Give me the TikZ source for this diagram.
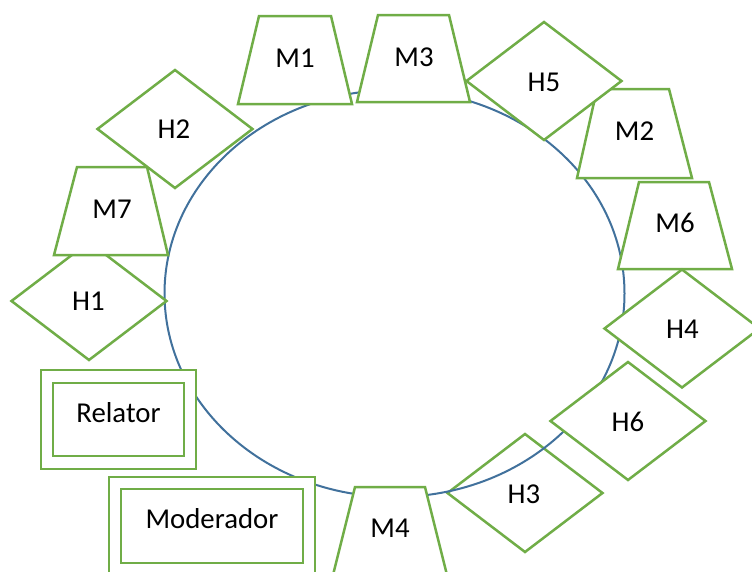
\documentclass[tikz,border=0pt]{standalone}
\usepackage{fontspec}
\setmainfont{Carlito}
\definecolor{shapegreen}{HTML}{70AD47}
\definecolor{ringblue}{HTML}{41719C}
\newcommand\trapz[6]{% xtl xtr xbl xbr ytop ybot
  \draw[shapeline] (#1,#5) -- (#2,#5) -- (#4,#6) -- (#3,#6) -- cycle;}
\newcommand\diamd[2]{% cx cy
  \draw[shapeline] ({#1-77.5},#2) -- (#1,{#2-59}) -- ({#1+77.5},#2) -- (#1,{#2+59}) -- cycle;}
\begin{document}
\begin{tikzpicture}[x=1pt,y=-1pt,
  shapeline/.style={draw=shapegreen, line width=2.5pt, fill=white, line join=miter},
  ring/.style={draw=ringblue, line width=2pt},
  lbl/.style={font=\fontsize{28.8}{33}\selectfont, inner sep=0pt, text=black}]
\useasboundingbox (0,0) rectangle (752,571);
\clip (0,0) rectangle (752,571);
% H3 lies under the ring
\diamd{525}{493}
\node[lbl] (h3) at (524,494) {H3};
% ring
\draw[ring] (394.5,293.5) ellipse [x radius=230pt, y radius=203.5pt];
% H1
\diamd{89}{301}
\node[lbl] (h1) at (88.5,301) {H1};
% M7
\trapz{77}{147}{54}{168}{167}{255}
\node[lbl] (m7) at (112,209) {M7};
% H2
\diamd{175}{129}
\node[lbl] (h2) at (174,129) {H2};
% M1
\trapz{259}{331}{238}{352}{16}{104}
\node[lbl] (m1) at (295,58.5) {M1};
% M2
\trapz{597}{669}{577}{692}{89}{178}
\node[lbl] (m2) at (634.5,131) {M2};
% H5
\diamd{544}{81}
\node[lbl] (h5) at (544,82) {H5};
% M3
\trapz{378}{449}{357}{470}{15}{102}
\node[lbl] (m3) at (414,57) {M3};
% M6
\trapz{639}{709}{618}{732}{182}{269}
\node[lbl] (m6) at (675,222.5) {M6};
% H4
\diamd{682}{328.5}
\node[lbl] (h4) at (682.5,329) {H4};
% H6
\diamd{628}{421}
\node[lbl] (h6) at (628,422) {H6};
% Relator
\draw[shapeline] (41,370) rectangle (196,469);
\draw[shapeline] (53,383) rectangle (184,456);
\node[lbl] (relator) at (118.5,413) {Relator};
% Moderador
\draw[shapeline] (109,477) rectangle (315,575);
\draw[shapeline] (121,489) rectangle (303,563);
\node[lbl] (moderador) at (212,518.5) {Moderador};
% M4
\trapz{355}{425}{333}{447}{487}{575}
\node[lbl] (m4) at (390,528) {M4};
\end{tikzpicture}
\end{document}
